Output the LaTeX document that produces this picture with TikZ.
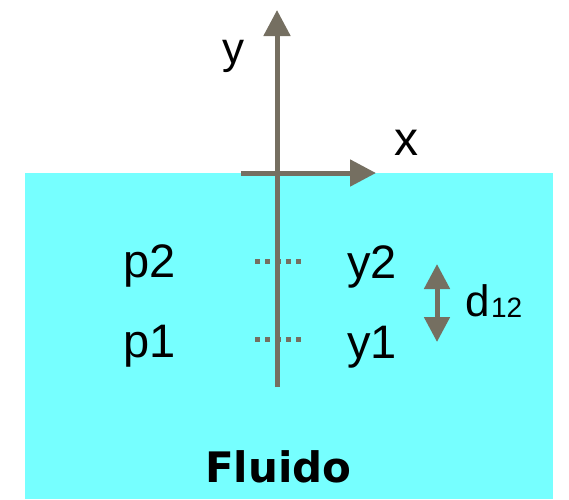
\documentclass[tikz,border=0pt]{standalone}
\usepackage{fontspec}
\setmainfont{Liberation Sans}
\newfontfamily\heavyfont{DejaVu Sans}
\usetikzlibrary{arrows.meta}
\definecolor{fluidcyan}{RGB}{118,255,255}
\definecolor{axisgray}{RGB}{117,111,97}
\begin{document}
\begin{tikzpicture}[x=1pt,y=-1pt,
	axis/.style={draw=axisgray,line width=5pt},
	tip/.style={-{Triangle[length=26pt,width=26pt]}},
	lbl/.style={inner sep=0pt,anchor=base west,font=\fontsize{47}{54}\selectfont}]
	\useasboundingbox (0,0) rectangle (569,499);
	\fill[fluidcyan] (25,173) rectangle (553,499);
	% axes
	\coordinate (O) at (277,173);
	\coordinate (ytop) at (277,10);
	\coordinate (ybot) at (277,387);
	\coordinate (xl) at (241,173);
	\coordinate (xr) at (376,173);
	\draw[axis,tip] (ybot) -- (ytop);
	\draw[axis,tip] (xl) -- (xr);
	\node[lbl,font=\fontsize{44}{52}\selectfont] (ylab) at (222,63) {y};
	\node[lbl,font=\fontsize{48}{56}\selectfont] (xlab) at (394,155) {x};
	% levels
	\coordinate (a2) at (255,261);
	\coordinate (b2) at (301,261);
	\coordinate (a1) at (255,339);
	\coordinate (b1) at (301,339);
	\draw[axisgray,line width=5pt,dash pattern=on 5pt off 5.25pt] (a2) -- (b2);
	\draw[axisgray,line width=5pt,dash pattern=on 5pt off 5.25pt] (a1) -- (b1);
	\node[lbl] (p2) at (123,277) {p2};
	\node[lbl] (p1) at (123,357) {p1};
	\node[lbl] (y2) at (347,278) {y2};
	\node[lbl] (y1) at (347,358) {y1};
	% distance
	\coordinate (dtop) at (437,264);
	\coordinate (dbot) at (437,342);
	\draw[axis,{Triangle[length=25pt,width=25pt]}-{Triangle[length=25pt,width=25pt]}] (dtop) -- (dbot);
	\node[lbl,font=\fontsize{44}{50}\selectfont] (d12) at (465,316) {d\kern1.5pt\raisebox{-1pt}{\fontsize{28}{30}\selectfont 12}};
	\node[lbl,font=\heavyfont\bfseries\fontsize{42}{50}\selectfont] (fluido) at (205,482) {Fluido};
\end{tikzpicture}
\end{document}
